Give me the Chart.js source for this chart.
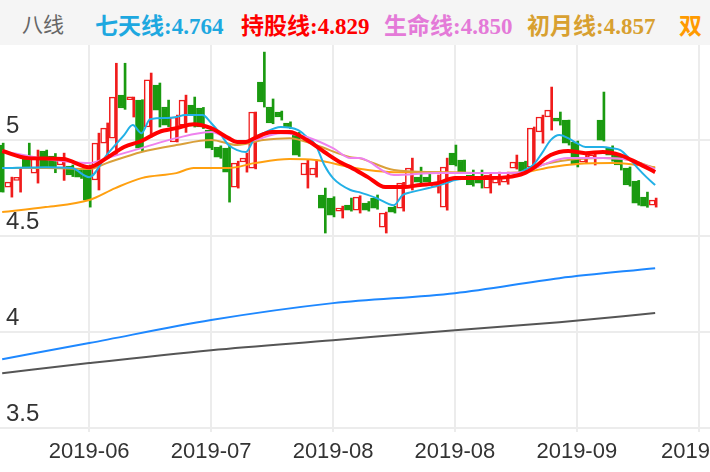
<!DOCTYPE html>
<html>
<head>
<meta charset="utf-8">
<script src="https://cdn.jsdelivr.net/npm/chart.js@4/dist/chart.umd.min.js"></script>
<style>
  body { margin: 0; background: #fff; }
  #head { height: 45px; background: #f5f5f5; position: relative; font-family: "Liberation Serif", "Noto Sans CJK SC", serif; font-size: 23px; font-weight: bold; white-space: nowrap; overflow: hidden; width: 710px; }
  #head span { position: absolute; top: 7px; }
  #wrap { width: 710px; height: 427px; }
</style>
</head>
<body>
<div id="head">
  <span style="left:22px;color:#666;font-weight:normal;font-family:'Noto Sans CJK SC';font-size:21px;top:8px">八线</span>
  <span style="left:95px;color:#1ea8e0">七天线:4.764</span>
  <span style="left:241px;color:#ff0000">持股线:4.829</span>
  <span style="left:384px;color:#e47ad8">生命线:4.850</span>
  <span style="left:527px;color:#d8a030">初月线:4.857</span>
  <span style="left:679px;color:#ff9a00">双</span>
</div>
<div id="wrap"><canvas id="chart"></canvas></div>
<script>
"use strict"

// candles: open, high, low, close (one per trading day)
const opens  = [4.974,4.755,4.790,4.922,4.828,4.943,4.917,4.870,4.865,4.844,4.859,4.792,4.984,5.010,5.234,5.210,5.208,5.068,5.286,5.172,
                4.990,5.078,5.182,5.167,5.052,4.964,4.958,4.755,4.886,4.854,5.302,5.172,5.146,5.089,5.036,4.818,4.818,4.714,4.698,4.630,
                4.661,4.635,4.672,4.698,4.547,4.651,4.646,4.750,4.807,4.807,4.755,4.651,4.932,4.896,4.818,4.807,4.750,4.776,4.781,4.854,
                4.885,4.859,5.042,5.120,5.115,5.104,4.990,4.885,4.906,5.104,4.958,4.922,4.854,4.786,4.703,4.661];
const highs  = [4.984,4.807,4.854,4.984,4.948,4.948,4.930,4.932,4.870,4.850,4.870,5.036,5.089,5.400,5.400,5.224,5.210,5.349,5.297,5.208,
                5.130,5.234,5.224,5.170,5.060,4.970,4.970,4.890,4.932,5.146,5.458,5.214,5.151,5.095,5.040,4.896,4.896,4.750,4.705,4.656,
                4.698,4.710,4.680,4.714,4.625,4.655,4.780,4.906,4.859,4.833,4.818,4.906,4.974,4.896,4.844,4.844,4.828,4.833,4.833,4.922,
                4.890,5.068,5.130,5.276,5.146,5.104,4.995,4.932,4.932,5.250,4.970,4.925,4.860,4.790,4.729,4.698];
const lows   = [4.729,4.703,4.729,4.854,4.776,4.855,4.830,4.790,4.810,4.800,4.651,4.740,4.922,4.920,5.160,5.120,4.943,5.016,5.068,5.070,
                4.990,5.040,5.068,5.060,4.950,4.905,4.677,4.750,4.833,4.850,5.172,5.085,5.104,5.060,4.915,4.750,4.807,4.516,4.600,4.594,
                4.630,4.620,4.630,4.640,4.516,4.620,4.630,4.740,4.775,4.770,4.724,4.635,4.865,4.830,4.760,4.750,4.724,4.766,4.770,4.849,
                4.830,4.859,4.984,5.052,5.078,4.974,4.860,4.880,4.870,4.995,4.890,4.844,4.760,4.661,4.650,4.651];
const closes = [4.729,4.781,4.800,4.859,4.906,4.859,4.854,4.906,4.818,4.807,4.687,4.984,5.062,5.224,5.167,5.220,4.958,5.313,5.156,5.078,
                5.120,5.208,5.130,5.068,4.958,4.911,4.833,4.880,4.906,5.146,5.198,5.089,5.120,5.068,4.922,4.880,4.854,4.646,4.609,4.646,
                4.635,4.703,4.635,4.646,4.620,4.625,4.776,4.854,4.781,4.781,4.776,4.859,4.870,4.833,4.766,4.776,4.818,4.807,4.807,4.885,
                4.833,5.062,5.120,5.156,5.099,4.984,4.870,4.906,4.922,5.000,4.922,4.870,4.766,4.672,4.656,4.687];

// moving-average lines, sampled at day index
const sevenIdx = [0,5,8,10,12,14,15,16,17,19,20,21,23,24,25,26,27,28,29,30,32,34,35,36,37,38,40,41,43,45,46,47,49,51,52,55,58,60,61,62,63,64,65,66,67,69,70,71,72,73,74,75];
const sevenVal = [4.854,4.859,4.854,4.807,4.922,5.026,5.078,5.036,5.109,5.115,5.120,5.130,5.130,5.089,5.036,4.974,4.948,4.938,5.010,5.036,5.068,5.052,5.016,4.974,4.870,4.802,4.740,4.729,4.698,4.661,4.714,4.729,4.750,4.776,4.792,4.802,4.807,4.844,4.870,4.932,5.000,5.026,5.010,4.984,4.964,4.964,4.958,4.948,4.906,4.854,4.807,4.766];
const holdIdx = [0,3,7,10,12,14,16,18,20,22,24,26,27,28,29,31,33,35,37,39,40,42,44,46,48,50,52,55,58,60,61,63,65,67,69,71,73,75];
const holdVal = [4.943,4.906,4.901,4.859,4.906,4.964,4.995,5.042,5.062,5.083,5.062,5.010,4.990,4.990,5.010,5.042,5.042,5.000,4.938,4.880,4.859,4.807,4.755,4.755,4.766,4.776,4.802,4.802,4.807,4.828,4.854,4.922,4.943,4.932,4.938,4.922,4.880,4.833];
const lifeIdx = [0,5,10,12,16,20,24,27,29,32,35,38,40,41,45,50,55,60,62,65,69,72,75];
const lifeVal = [4.943,4.901,4.880,4.906,4.958,5.010,5.042,4.990,5.000,5.036,5.016,4.958,4.906,4.906,4.818,4.828,4.828,4.833,4.870,4.906,4.906,4.896,4.849];
const monthIdx = [0,5,10,12,16,20,24,27,30,33,36,40,41,45,50,55,60,62,65,69,72,75];
const monthVal = [4.854,4.854,4.849,4.880,4.938,4.974,5.000,4.974,5.000,5.010,4.974,4.911,4.906,4.844,4.833,4.828,4.833,4.870,4.896,4.906,4.896,4.854];
const dualIdx = [0,5,10,13,16,20,22,26,29,33,36,40,42,45,50,55,60,63,66,70,73,75];
const dualVal = [4.625,4.651,4.688,4.750,4.802,4.828,4.854,4.854,4.880,4.901,4.896,4.859,4.844,4.833,4.833,4.828,4.833,4.859,4.875,4.880,4.870,4.859];
const blueIdx = [0,10,24,38,52,64,75];
const blueVal = [3.859,3.943,4.063,4.151,4.203,4.281,4.333];
const grayIdx = [0,10,24,38,52,64,75];
const grayVal = [3.786,3.839,3.906,3.958,4.010,4.052,4.099];

// axis ticks
const xTickIdx = [10,24,38,52,66,80];
const xTickLabels = ["2019-06","2019-07","2019-08","2019-08","2019-09","2019"];
const yTicks = [3.5,4,4.5,5];

const UP = "#f01c1c", DOWN = "#1a9a10";

function pts(idx, val) {
    return idx.map((x, i) => ({x: x, y: val[i]}));
}

function line(label, idx, val, color, width, order) {
    return {
        type: "line", label: label, data: pts(idx, val),
        borderColor: color, borderWidth: width, pointRadius: 0,
        cubicInterpolationMode: "monotone", order: order
    };
}

const up = closes.map((c, i) => c >= opens[i]);

const wicks = {
    type: "bar", label: "wick",
    data: opens.map((o, i) => ({x: i, y: [lows[i], highs[i]]})),
    backgroundColor: up.map(u => u ? UP : DOWN),
    barThickness: 2, order: 10
};
const bodies = {
    type: "bar", label: "body",
    data: opens.map((o, i) => ({x: i, y: [o, closes[i]]})),
    backgroundColor: up.map(u => u ? "#ffffff" : DOWN),
    borderColor: up.map(u => u ? UP : DOWN),
    borderWidth: 1.5, borderSkipped: false,
    barThickness: 6, minBarLength: 3, order: 9
};

// y labels sit inside the plot, just above their grid line; x labels under it
const labelPlugin = {
    id: "labels",
    afterDraw(chart) {
        const ctx = chart.ctx;
        const y = chart.scales.y, x = chart.scales.x;
        ctx.save();
        ctx.fillStyle = "#333";
        ctx.font = "24px 'Liberation Sans', sans-serif";
        ctx.textAlign = "left";
        ctx.textBaseline = "bottom";
        yTicks.forEach(v => ctx.fillText(String(v), 6, y.getPixelForValue(v) - 2));
        ctx.font = "22px 'Liberation Sans', sans-serif";
        ctx.textBaseline = "middle";
        xTickIdx.forEach((v, i) => {
            const px = x.getPixelForValue(v);
            const w = ctx.measureText(xTickLabels[i]).width;
            const left = Math.min(px - w / 2, chart.width - w);
            ctx.fillText(xTickLabels[i], left, chart.chartArea.bottom + 20);
        });
        ctx.restore();
    }
};

new Chart(document.getElementById("chart"), {
    data: {
        datasets: [
            wicks, bodies,
            line("七天线", sevenIdx, sevenVal, "#22b0e6", 2, 3),
            line("持股线", holdIdx, holdVal, "#ff0000", 4, 1),
            line("生命线", lifeIdx, lifeVal, "#ee82ee", 2, 2),
            line("初月线", monthIdx, monthVal, "#daa03a", 2, 4),
            line("双", dualIdx, dualVal, "#ffa010", 2, 5),
            line("blue", blueIdx, blueVal, "#1e88ff", 2, 6),
            line("gray", grayIdx, grayVal, "#555555", 2, 7)
        ]
    },
    options: {
        animation: false,
        responsive: true,
        maintainAspectRatio: false,
        layout: { padding: { left: 0, right: 0, top: 0, bottom: 40 } },
        plugins: { legend: { display: false }, tooltip: { enabled: false } },
        scales: {
            x: {
                type: "linear", min: -0.25, max: 81.3, offset: false,
                afterBuildTicks: s => { s.ticks = xTickIdx.map(v => ({value: v})); },
                ticks: { display: false },
                grid: { color: "#ececec", lineWidth: 2, drawTicks: false, offset: false },
                border: { display: false }
            },
            y: {
                min: 3.48, max: 5.495,
                afterBuildTicks: s => { s.ticks = yTicks.map(v => ({value: v})); },
                ticks: { display: false },
                grid: { color: "#ececec", lineWidth: 2, drawTicks: false },
                border: { display: false }
            }
        }
    },
    plugins: [labelPlugin]
});
</script>
</body>
</html>
